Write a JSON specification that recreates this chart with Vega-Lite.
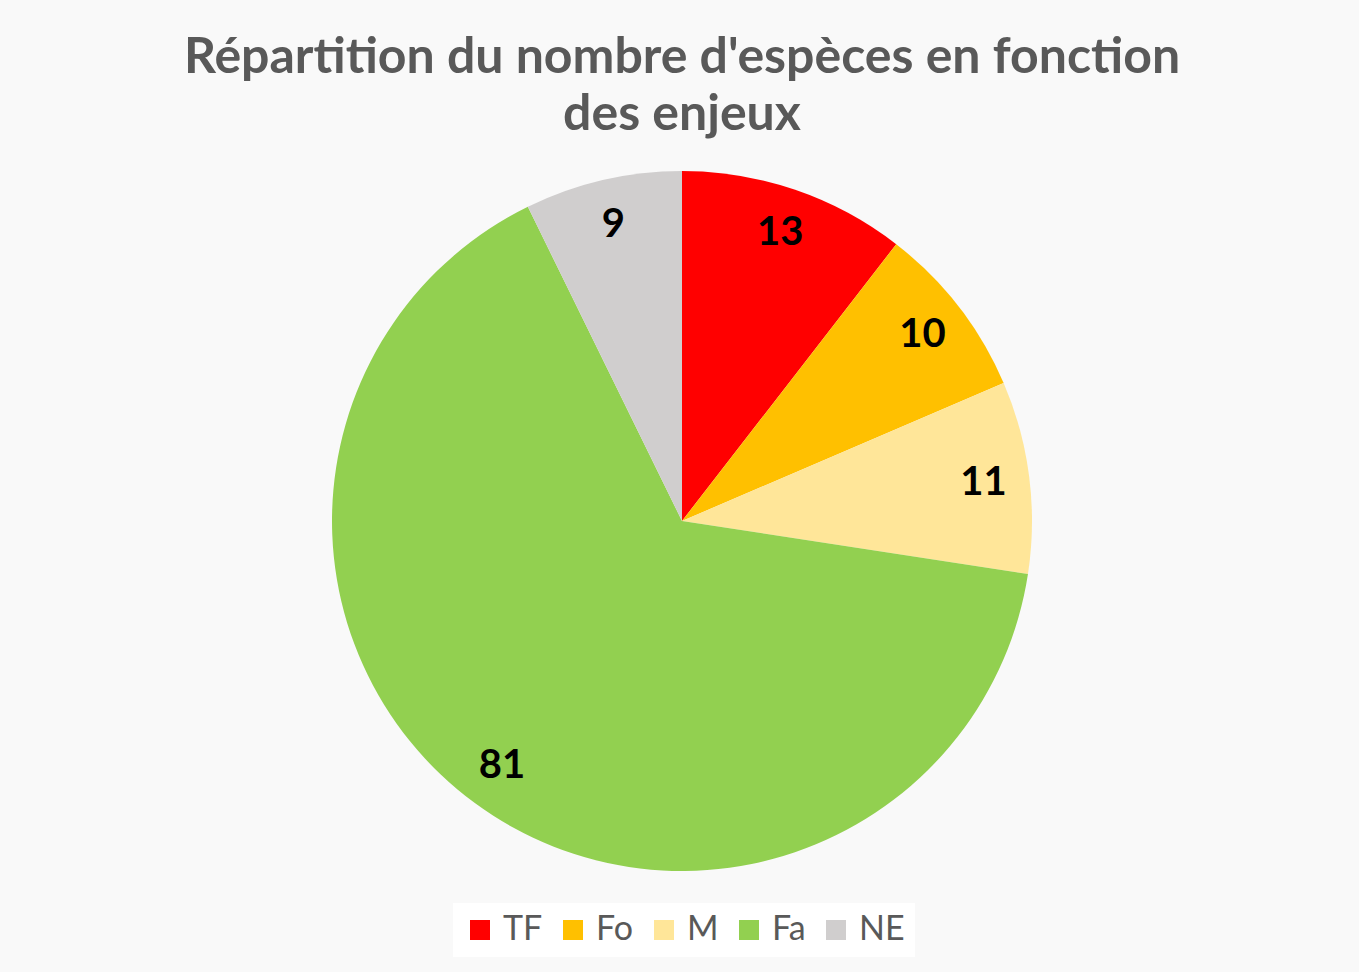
{
  "$schema": "https://vega.github.io/schema/vega-lite/v6.json",
  "autosize": {"type": "none"},
  "width": 1354,
  "height": 762,
  "padding": {"left": 5, "top": 140, "right": 0, "bottom": 70},
  "background": "#F9F9F9",
  "title": {
    "text": ["Répartition du nombre d'espèces en fonction", "des enjeux"],
    "anchor": "middle",
    "font": "Lato",
    "fontSize": 50,
    "fontWeight": "bold",
    "color": "#595959",
    "lineHeight": 57,
    "offset": 0
  },
  "data": {
    "values": [
      {"enjeu": "TF", "nombre": 13, "rang": 1},
      {"enjeu": "Fo", "nombre": 10, "rang": 2},
      {"enjeu": "M", "nombre": 11, "rang": 3},
      {"enjeu": "Fa", "nombre": 81, "rang": 4},
      {"enjeu": "NE", "nombre": 9, "rang": 5}
    ]
  },
  "encoding": {
    "theta": {"field": "nombre", "type": "quantitative", "stack": true},
    "order": {"field": "rang", "type": "quantitative"}
  },
  "layer": [
    {
      "mark": {"type": "arc", "outerRadius": 350, "stroke": null},
      "encoding": {
        "color": {
          "field": "enjeu",
          "type": "nominal",
          "sort": ["TF", "Fo", "M", "Fa", "NE"],
          "scale": {
            "domain": ["TF", "Fo", "M", "Fa", "NE"],
            "range": ["#FF0000", "#FFC000", "#FFE699", "#92D050", "#D0CECE"]
          },
          "legend": {
            "title": null,
            "orient": "none",
            "legendX": 448,
            "legendY": 763,
            "direction": "horizontal",
            "symbolType": "square",
            "symbolSize": 400,
            "symbolStrokeWidth": 0,
            "labelFont": "Lato",
            "labelFontSize": 34,
            "labelColor": "#595959",
            "labelOffset": 6,
            "columnPadding": 13,
            "fillColor": "#FFFFFF",
            "padding": 10
          }
        }
      }
    },
    {
      "mark": {
        "type": "text",
        "radius": 304,
        "font": "Lato",
        "fontSize": 40,
        "fontWeight": "bold",
        "align": "center",
        "baseline": "middle"
      },
      "encoding": {
        "detail": {"field": "enjeu", "type": "nominal"},
        "color": {"value": "#000000"},
        "text": {"field": "nombre", "type": "quantitative"}
      }
    }
  ],
  "config": {
    "view": {"stroke": null}
  }
}
